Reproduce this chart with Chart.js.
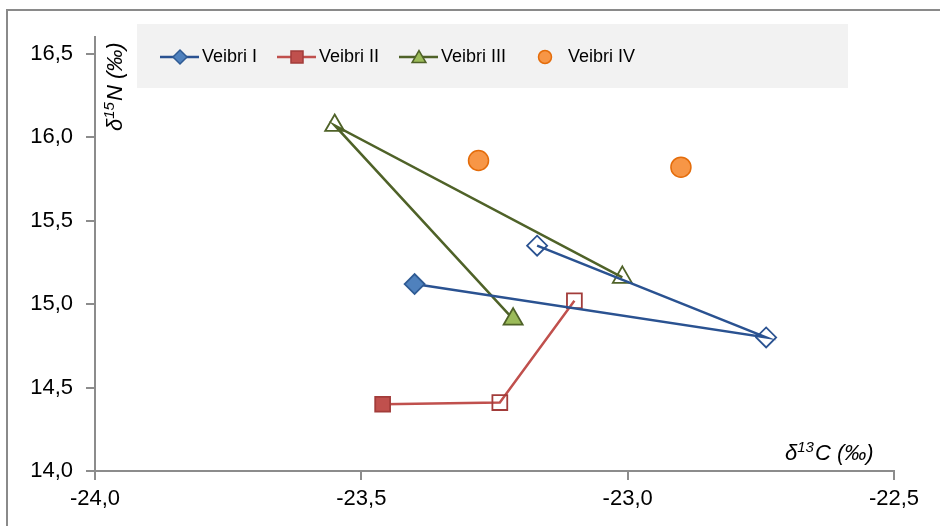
<!DOCTYPE html>
<html>
<head>
<meta charset="utf-8">
<script src="https://cdn.jsdelivr.net/npm/chart.js@4.4.0/dist/chart.umd.min.js"></script>
<style>
  html, body { margin: 0; padding: 0; background: #fff; }
  #wrap { width: 940px; height: 526px; }
</style>
</head>
<body>
<div id="wrap"><canvas id="chart" width="940" height="526"></canvas></div>
<script>
// isotope values (δ13C, δ15N)
const seriesNames = ['Veibri I', 'Veibri II', 'Veibri III', 'Veibri IV'];
const veibri1C = [-23.40, -22.74, -23.17];
const veibri1N = [15.12, 14.80, 15.35];
const veibri2C = [-23.46, -23.24, -23.10];
const veibri2N = [14.40, 14.41, 15.02];
const veibri3C = [-23.215, -23.55, -23.01];
const veibri3N = [14.91, 16.07, 15.16];
const veibri4C = [-23.28, -22.90];
const veibri4N = [15.86, 15.82];

const xTicks = [-24.0, -23.5, -23.0, -22.5];
const yTicks = [14.0, 14.5, 15.0, 15.5, 16.0, 16.5];

const FONT = '"Liberation Sans", Arial, sans-serif';
const axisGray = '#8c8c8c';

const pairs = (xs, ys) => xs.map((x, i) => ({ x, y: ys[i] }));
const firstFilled = (n, fill) => Array.from({ length: n }, (_, i) => i === 0 ? fill : 'rgba(0,0,0,0)');

const commaFmt = v => v.toFixed(1).replace('.', ',');

// draws "δ" + superscript + rest at the current origin
function drawIso(ctx, sup, rest, x, y, size) {
    ctx.font = 'italic ' + size + 'px ' + FONT;
    ctx.fillText('δ', x, y);
    x += ctx.measureText('δ').width;
    ctx.font = 'italic ' + Math.round(size * 0.66) + 'px ' + FONT;
    ctx.fillText(sup, x, y - size * 0.36);
    x += ctx.measureText(sup).width + 1;
    ctx.font = 'italic ' + size + 'px ' + FONT;
    ctx.fillText(rest, x, y);
}

// legend marker sizes, smaller than on the plot
const legendRadius = { rectRot: 7, rect: 8.5, triangle: 8, circle: 6.5 };

const decorPlugin = {
    id: 'decor',
    beforeDraw(chart) {
        const ctx = chart.ctx;
        ctx.save();
        ctx.strokeStyle = '#8a8a8a';
        ctx.lineWidth = 2;
        ctx.beginPath();
        ctx.moveTo(7, 526);
        ctx.lineTo(7, 10);
        ctx.lineTo(940, 10);
        ctx.stroke();
        ctx.restore();
    },
    afterDraw(chart) {
        const ctx = chart.ctx;
        ctx.save();
        ctx.fillStyle = '#000';
        ctx.textBaseline = 'alphabetic';
        ctx.textAlign = 'left';
        // x axis title
        drawIso(ctx, '13', 'C (‰)', 785, 460, 22);
        // y axis title, rotated
        ctx.translate(122, 131);
        ctx.rotate(-Math.PI / 2);
        drawIso(ctx, '15', 'N (‰)', 0, 0, 22);
        ctx.restore();

        // legend
        ctx.save();
        ctx.fillStyle = '#f2f2f2';
        ctx.fillRect(137, 24, 711, 64);
        const slots = [160, 277, 399, 525];
        const cy = 57;
        chart.data.datasets.forEach((ds, i) => {
            const x0 = slots[i];
            if (ds.showLine) {
                ctx.strokeStyle = ds.borderColor;
                ctx.lineWidth = 2.5;
                ctx.beginPath();
                ctx.moveTo(x0, cy);
                ctx.lineTo(x0 + 39, cy);
                ctx.stroke();
            }
            const fill = Array.isArray(ds.pointBackgroundColor) ? ds.pointBackgroundColor[0] : ds.pointBackgroundColor;
            const stroke = Array.isArray(ds.pointBorderColor) ? ds.pointBorderColor[0] : ds.pointBorderColor;
            ctx.fillStyle = fill;
            ctx.strokeStyle = stroke;
            ctx.lineWidth = 1.5;
            Chart.helpers.drawPoint(ctx, { pointStyle: ds.pointStyle, rotation: 0, borderWidth: 1.5, radius: legendRadius[ds.pointStyle] },
                x0 + 20, cy + (ds.pointStyle === 'triangle' ? 1.5 : 0));
            ctx.fillStyle = '#000';
            ctx.font = '18px ' + FONT;
            ctx.textBaseline = 'middle';
            ctx.fillText(ds.label, ds.showLine ? x0 + 42 : x0 + 43, cy);
        });
        ctx.restore();
    }
};

const ds = [
    {
        label: seriesNames[0],
        data: pairs(veibri1C, veibri1N),
        showLine: true,
        borderColor: '#2a5291',
        borderWidth: 2.5,
        pointStyle: 'rectRot',
        pointRadius: 10,
        pointBorderWidth: 1.8,
        pointBackgroundColor: firstFilled(veibri1C.length, '#4f81bd'),
        pointBorderColor: ['#2f5b94', '#2a5291', '#2a5291']
    },
    {
        label: seriesNames[1],
        data: pairs(veibri2C, veibri2N),
        showLine: true,
        borderColor: '#c0504d',
        borderWidth: 2.5,
        pointStyle: 'rect',
        pointRadius: 10.5,
        pointBorderWidth: 1.8,
        pointBackgroundColor: firstFilled(veibri2C.length, '#c0504d'),
        pointBorderColor: ['#a23c3a', '#a23c3a', '#a23c3a']
    },
    {
        label: seriesNames[2],
        data: pairs(veibri3C, veibri3N),
        showLine: true,
        borderColor: '#4f6228',
        borderWidth: 2.5,
        pointStyle: 'triangle',
        pointRadius: 11,
        pointBorderWidth: 1.8,
        pointBackgroundColor: firstFilled(veibri3C.length, '#9bbb59'),
        pointBorderColor: ['#4f6228', '#4f6228', '#4f6228']
    },
    {
        label: seriesNames[3],
        data: pairs(veibri4C, veibri4N),
        showLine: false,
        borderColor: '#e46c0a',
        pointStyle: 'circle',
        pointRadius: 10,
        pointBorderWidth: 1.5,
        pointBackgroundColor: '#f79646',
        pointBorderColor: '#e46c0a'
    }
];

new Chart(document.getElementById('chart'), {
    type: 'scatter',
    data: { datasets: ds },
    options: {
        responsive: false,
        animation: false,
        layout: { padding: { top: 37, right: 46, left: 0, bottom: 0 } },
        plugins: {
            legend: { display: false },
            tooltip: { enabled: false }
        },
        elements: { line: { tension: 0 } },
        scales: {
            x: {
                type: 'linear',
                min: -24,
                max: -22.5,
                afterBuildTicks: s => { s.ticks = xTicks.map(v => ({ value: v })); },
                afterFit: s => { s.height = 55; },
                border: { color: axisGray, width: 2 },
                grid: { drawOnChartArea: false, color: axisGray, lineWidth: 2, tickLength: 9 },
                ticks: {
                    color: '#000',
                    padding: 6,
                    font: { family: FONT, size: 22 },
                    callback: v => commaFmt(v)
                }
            },
            y: {
                type: 'linear',
                min: 14,
                max: 16.6,
                afterBuildTicks: s => { s.ticks = yTicks.map(v => ({ value: v })); },
                afterFit: s => { s.width = 95; },
                border: { color: axisGray, width: 2 },
                grid: { drawOnChartArea: false, color: axisGray, lineWidth: 2, tickLength: 9 },
                ticks: {
                    color: '#000',
                    padding: 13,
                    font: { family: FONT, size: 22 },
                    callback: v => commaFmt(v)
                }
            }
        }
    },
    plugins: [decorPlugin]
});
</script>
</body>
</html>
